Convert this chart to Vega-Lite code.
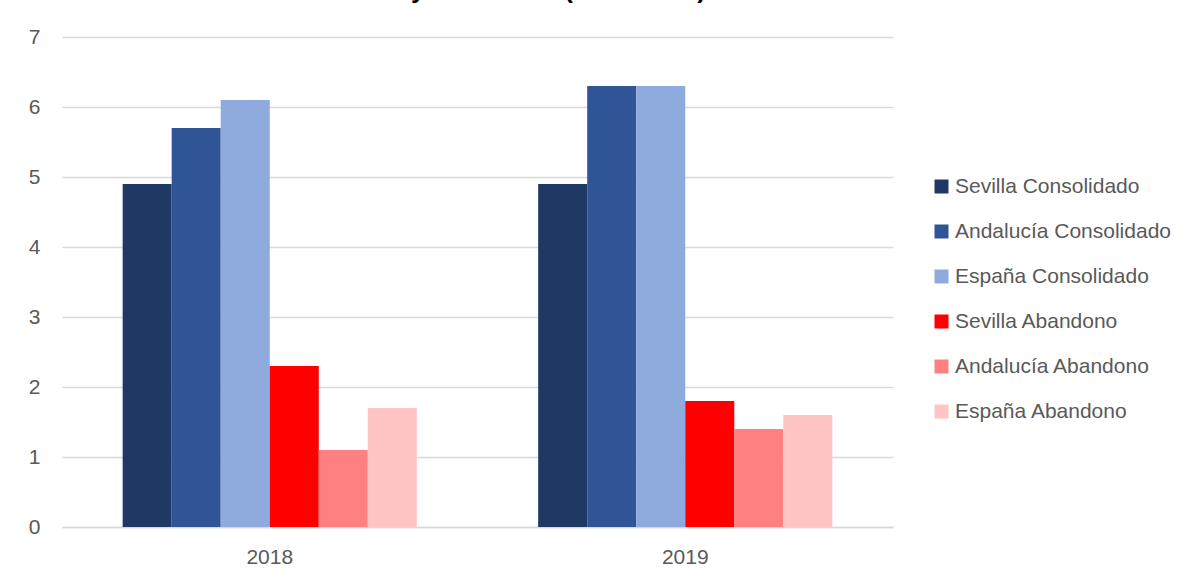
{
  "$schema": "https://vega.github.io/schema/vega-lite/v6.json",
  "autosize": "none",
  "width": 831,
  "height": 490,
  "padding": {"left": 62, "top": 37, "right": 303, "bottom": 54},
  "background": "white",
  "title": {
    "text": "Gráfico 7: Tasa de consolidado y abandono (2018-2019)",
    "orient": "top",
    "anchor": "start",
    "frame": "group",
    "baseline": "alphabetic",
    "offset": 24,
    "dx": -42,
    "dy": 22,
    "font": "Liberation Sans",
    "fontSize": 26,
    "fontWeight": "bold",
    "color": "#000000"
  },
  "data": {
    "values": [
      {"year": "2018", "serie": "Sevilla Consolidado", "valor": 4.9},
      {"year": "2018", "serie": "Andalucía Consolidado", "valor": 5.7},
      {"year": "2018", "serie": "España Consolidado", "valor": 6.1},
      {"year": "2018", "serie": "Sevilla Abandono", "valor": 2.3},
      {"year": "2018", "serie": "Andalucía Abandono", "valor": 1.1},
      {"year": "2018", "serie": "España Abandono", "valor": 1.7},
      {"year": "2019", "serie": "Sevilla Consolidado", "valor": 4.9},
      {"year": "2019", "serie": "Andalucía Consolidado", "valor": 6.3},
      {"year": "2019", "serie": "España Consolidado", "valor": 6.3},
      {"year": "2019", "serie": "Sevilla Abandono", "valor": 1.8},
      {"year": "2019", "serie": "Andalucía Abandono", "valor": 1.4},
      {"year": "2019", "serie": "España Abandono", "valor": 1.6}
    ]
  },
  "mark": {"type": "bar"},
  "encoding": {
    "x": {
      "field": "year",
      "type": "nominal",
      "scale": {"paddingInner": 0.292, "paddingOuter": 0.146},
      "axis": {
        "title": null,
        "labelAngle": 0,
        "ticks": false,
        "domainColor": "#d9d9d9",
        "domainWidth": 1.5,
        "labelPadding": 19,
        "labelFont": "Liberation Sans",
        "labelFontSize": 21,
        "labelColor": "#595959"
      }
    },
    "xOffset": {
      "field": "serie",
      "type": "nominal",
      "sort": ["Sevilla Consolidado", "Andalucía Consolidado", "España Consolidado", "Sevilla Abandono", "Andalucía Abandono", "España Abandono"],
      "scale": {"paddingInner": 0, "paddingOuter": 0}
    },
    "y": {
      "field": "valor",
      "type": "quantitative",
      "scale": {"domain": [0, 7], "nice": false},
      "axis": {
        "title": null,
        "values": [0, 1, 2, 3, 4, 5, 6, 7],
        "labelOverlap": false,
        "domain": false,
        "ticks": false,
        "gridColor": "#d9d9d9",
        "gridWidth": 1.5,
        "labelPadding": 22,
        "labelFont": "Liberation Sans",
        "labelFontSize": 21,
        "labelColor": "#595959"
      }
    },
    "color": {
      "field": "serie",
      "type": "nominal",
      "sort": ["Sevilla Consolidado", "Andalucía Consolidado", "España Consolidado", "Sevilla Abandono", "Andalucía Abandono", "España Abandono"],
      "scale": {
        "domain": ["Sevilla Consolidado", "Andalucía Consolidado", "España Consolidado", "Sevilla Abandono", "Andalucía Abandono", "España Abandono"],
        "range": ["#203864", "#2f5597", "#8faadc", "#ff0000", "#ff8080", "#ffc5c5"]
      },
      "legend": {
        "title": null,
        "orient": "none",
        "legendX": 869,
        "legendY": 139,
        "symbolType": "square",
        "symbolSize": 196,
        "symbolStrokeWidth": 0,
        "labelOffset": 3,
        "rowPadding": 23,
        "labelFont": "Liberation Sans",
        "labelFontSize": 21,
        "labelColor": "#595959",
        "labelLimit": 400
      }
    }
  },
  "config": {
    "view": {"stroke": null}
  }
}
